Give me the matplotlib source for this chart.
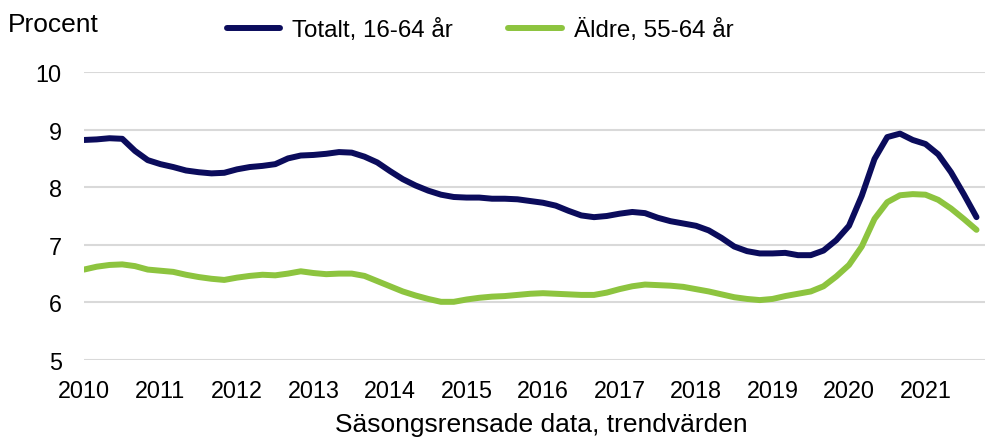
import numpy as np
import matplotlib
matplotlib.use("Agg")
import matplotlib.pyplot as plt

plt.rcParams['font.family'] = ['Liberation Sans', 'DejaVu Sans']

# bi-monthly trend values, Jan 2010 .. Sep 2021
start_year = 2010
step = 1 / 6

totalt = [8.82, 8.83, 8.85, 8.84, 8.63, 8.47, 8.40, 8.35, 8.29, 8.26,
          8.24, 8.25, 8.31, 8.35, 8.37, 8.40, 8.50, 8.55, 8.56, 8.58,
          8.61, 8.60, 8.53, 8.43, 8.28, 8.14, 8.03, 7.94, 7.87, 7.83,
          7.82, 7.82, 7.80, 7.80, 7.79, 7.76, 7.73, 7.68, 7.59, 7.51,
          7.48, 7.50, 7.54, 7.57, 7.55, 7.47, 7.41, 7.37, 7.33, 7.25,
          7.12, 6.97, 6.89, 6.85, 6.85, 6.86, 6.82, 6.82, 6.90, 7.08,
          7.33, 7.85, 8.49, 8.87, 8.93, 8.82, 8.75, 8.57, 8.26, 7.88,
          7.48]

aldre = [6.57, 6.62, 6.65, 6.66, 6.63, 6.57, 6.55, 6.53, 6.48, 6.44,
         6.41, 6.39, 6.43, 6.46, 6.48, 6.47, 6.50, 6.54, 6.51, 6.49,
         6.50, 6.50, 6.46, 6.37, 6.28, 6.19, 6.12, 6.06, 6.01, 6.01,
         6.05, 6.08, 6.10, 6.11, 6.13, 6.15, 6.16, 6.15, 6.14, 6.13,
         6.13, 6.17, 6.23, 6.28, 6.31, 6.30, 6.29, 6.27, 6.23, 6.19,
         6.14, 6.09, 6.06, 6.04, 6.06, 6.11, 6.15, 6.19, 6.28, 6.45,
         6.65, 6.97, 7.45, 7.74, 7.86, 7.88, 7.87, 7.78, 7.63, 7.45,
         7.26]

years = list(range(2010, 2022))
labels = ["Totalt, 16-64 år", "Äldre, 55-64 år"]

t = start_year + step * np.arange(len(totalt))

fig = plt.figure(figsize=(9.85, 4.39), dpi=100)
ax = fig.add_axes([84 / 985, 1 - 361 / 439, 1 - 84 / 985, (361 - 73) / 439])

line_kw = dict(lw=4.3, solid_capstyle='round', solid_joinstyle='round')
ax.plot(t, totalt, color='#0b0c5c', label=labels[0], **line_kw)
ax.plot(t, aldre, color='#8dc43f', label=labels[1], **line_kw)

ax.set_ylim(5, 10)
ax.set_xlim(2010, 2010 + (985 - 84) / 76.5)
ax.set_yticks(range(5, 11))
ax.set_xticks(years)
ax.set_xticklabels([str(y) for y in years])
ax.tick_params(axis='both', length=0, labelsize=16.8, colors='black')
ax.tick_params(axis='y', pad=16)
ax.tick_params(axis='x', pad=14)
ax.grid(axis='y', color='#d9d9d9', lw=1.5)
ax.set_axisbelow(True)
for s in ax.spines.values():
    s.set_visible(False)

fig.text(8 / 985, 1 - 25 / 439, "Procent", fontsize=19, va='center', ha='left')
fig.text(541 / 985, 1 - 425 / 439, "Säsongsrensade data, trendvärden",
         fontsize=19, ha='center', va='center')

fig.legend(loc='center', bbox_to_anchor=(480 / 985, 1 - 31 / 439), ncol=2,
           frameon=False, fontsize=17.4, handlelength=2.2, handletextpad=0.5,
           columnspacing=2.3, borderpad=0, borderaxespad=0)

fig.savefig('out.png', dpi=100)
